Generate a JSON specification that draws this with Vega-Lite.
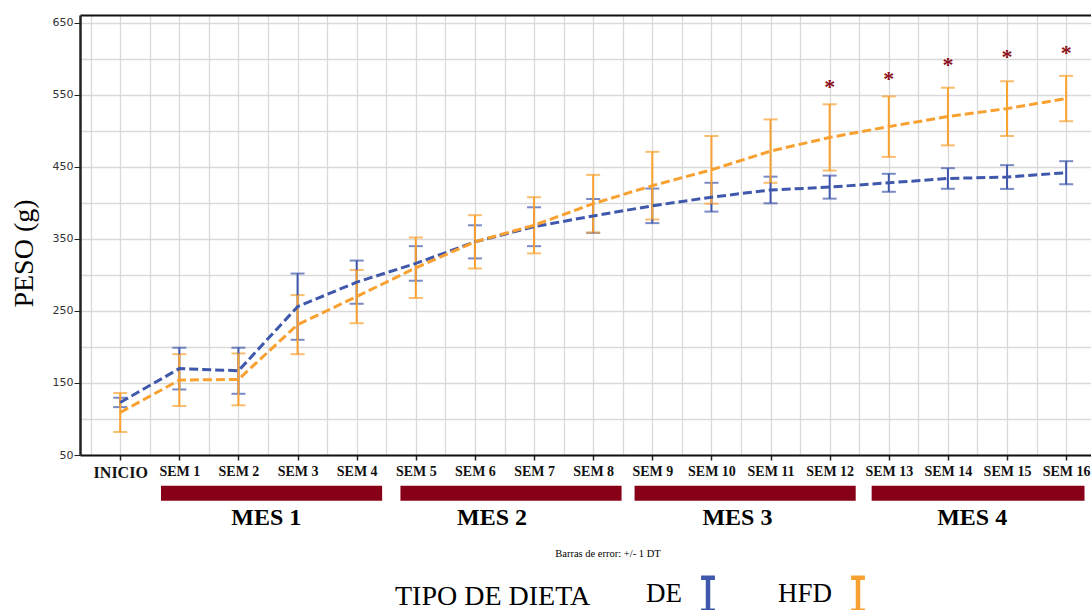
{
  "$schema": "https://vega.github.io/schema/vega-lite/v6.json",
  "width": 1011,
  "height": 440,
  "autosize": {"type": "none"},
  "padding": {"left": 80, "top": 15, "right": 0, "bottom": 155},
  "background": "white",
  "config": {"view": {"stroke": null}},
  "datasets": {
    "pesos": [
      {"semana": "INICIO", "idx": 0, "dieta": "DE", "media": 123, "de": 6.5},
      {"semana": "SEM 1", "idx": 1, "dieta": "DE", "media": 170, "de": 29},
      {"semana": "SEM 2", "idx": 2, "dieta": "DE", "media": 167, "de": 32},
      {"semana": "SEM 3", "idx": 3, "dieta": "DE", "media": 256, "de": 46},
      {"semana": "SEM 4", "idx": 4, "dieta": "DE", "media": 290, "de": 30},
      {"semana": "SEM 5", "idx": 5, "dieta": "DE", "media": 316, "de": 24},
      {"semana": "SEM 6", "idx": 6, "dieta": "DE", "media": 346, "de": 23},
      {"semana": "SEM 7", "idx": 7, "dieta": "DE", "media": 367, "de": 27},
      {"semana": "SEM 8", "idx": 8, "dieta": "DE", "media": 382, "de": 23.5},
      {"semana": "SEM 9", "idx": 9, "dieta": "DE", "media": 396, "de": 24},
      {"semana": "SEM 10", "idx": 10, "dieta": "DE", "media": 408, "de": 20},
      {"semana": "SEM 11", "idx": 11, "dieta": "DE", "media": 418, "de": 18.5},
      {"semana": "SEM 12", "idx": 12, "dieta": "DE", "media": 422, "de": 16},
      {"semana": "SEM 13", "idx": 13, "dieta": "DE", "media": 428, "de": 12.5},
      {"semana": "SEM 14", "idx": 14, "dieta": "DE", "media": 434, "de": 14.3},
      {"semana": "SEM 15", "idx": 15, "dieta": "DE", "media": 436, "de": 16.5},
      {"semana": "SEM 16", "idx": 16, "dieta": "DE", "media": 442, "de": 16},
      {"semana": "INICIO", "idx": 0, "dieta": "HFD", "media": 109, "de": 27},
      {"semana": "SEM 1", "idx": 1, "dieta": "HFD", "media": 154, "de": 36},
      {"semana": "SEM 2", "idx": 2, "dieta": "HFD", "media": 155, "de": 36},
      {"semana": "SEM 3", "idx": 3, "dieta": "HFD", "media": 231, "de": 41},
      {"semana": "SEM 4", "idx": 4, "dieta": "HFD", "media": 270, "de": 37},
      {"semana": "SEM 5", "idx": 5, "dieta": "HFD", "media": 310, "de": 42},
      {"semana": "SEM 6", "idx": 6, "dieta": "HFD", "media": 346, "de": 37},
      {"semana": "SEM 7", "idx": 7, "dieta": "HFD", "media": 369, "de": 39},
      {"semana": "SEM 8", "idx": 8, "dieta": "HFD", "media": 399, "de": 40},
      {"semana": "SEM 9", "idx": 9, "dieta": "HFD", "media": 424, "de": 47},
      {"semana": "SEM 10", "idx": 10, "dieta": "HFD", "media": 446, "de": 47},
      {"semana": "SEM 11", "idx": 11, "dieta": "HFD", "media": 472, "de": 44},
      {"semana": "SEM 12", "idx": 12, "dieta": "HFD", "media": 491, "de": 46},
      {"semana": "SEM 13", "idx": 13, "dieta": "HFD", "media": 506, "de": 42},
      {"semana": "SEM 14", "idx": 14, "dieta": "HFD", "media": 520, "de": 40},
      {"semana": "SEM 15", "idx": 15, "dieta": "HFD", "media": 531, "de": 38},
      {"semana": "SEM 16", "idx": 16, "dieta": "HFD", "media": 545, "de": 31.5}
    ],
    "significancia": [
      {"idx": 12, "valor": 567},
      {"idx": 13, "valor": 577},
      {"idx": 14, "valor": 597},
      {"idx": 15, "valor": 608},
      {"idx": 16, "valor": 614}
    ],
    "meses": [
      {"mes": "MES 1", "inicio": 0.69, "fin": 4.43, "centro": 2.47},
      {"mes": "MES 2", "inicio": 4.74, "fin": 8.48, "centro": 6.29},
      {"mes": "MES 3", "inicio": 8.7, "fin": 12.44, "centro": 10.44},
      {"mes": "MES 4", "inicio": 12.71, "fin": 16.31, "centro": 14.41}
    ],
    "nota": [
      {"texto": "Barras de error: +/- 1 DT", "centro": 8.25}
    ]
  },
  "resolve": {"axis": {"x": "independent", "y": "independent"}},
  "layer": [
    {
      "data": {"name": "significancia"},
      "mark": {"type": "text", "text": "*", "font": "Liberation Serif", "fontWeight": "bold", "fontSize": 22, "color": "#8b1020", "baseline": "middle", "dy": 4},
      "encoding": {
        "x": {"field": "idx", "type": "quantitative", "scale": {"domain": [-0.68, 16.42], "nice": false, "zero": false},
          "axis": {"orient": "top", "values": [-0.5, 0, 0.5, 1, 1.5, 2, 2.5, 3, 3.5, 4, 4.5, 5, 5.5, 6, 6.5, 7, 7.5, 8, 8.5, 9, 9.5, 10, 10.5, 11, 11.5, 12, 12.5, 13, 13.5, 14, 14.5, 15, 15.5, 16],
            "grid": true, "gridColor": "#d9d9d9", "gridWidth": 1.3, "labels": false, "ticks": false, "domain": true, "domainColor": "#111", "domainWidth": 2, "title": null}},
        "y": {"field": "valor", "type": "quantitative", "scale": {"domain": [50, 661], "nice": false, "zero": false},
          "axis": {"orient": "right", "values": [50, 100, 150, 200, 250, 300, 350, 400, 450, 500, 550, 600, 650],
            "grid": true, "gridColor": "#d9d9d9", "gridWidth": 1.3, "labels": false, "ticks": false, "domain": false, "title": null}}
      }
    },
    {
      "data": {"name": "pesos"},
      "mark": {"type": "errorbar", "thickness": 2, "ticks": {"size": 14}},
      "encoding": {
        "x": {"field": "idx", "type": "quantitative", "scale": {"domain": [-0.68, 16.42], "nice": false, "zero": false}, "axis": null},
        "y": {"field": "media", "type": "quantitative", "scale": {"domain": [50, 661], "nice": false, "zero": false}, "axis": null},
        "yError": {"field": "de"},
        "color": {"field": "dieta", "type": "nominal", "scale": {"domain": ["DE", "HFD"], "range": ["#4058ab", "#f8a131"]},
          "legend": {"orient": "none", "legendX": 315, "legendY": 560, "direction": "horizontal", "title": "TIPO DE DIETA", "titleOrient": "left",
            "titleFont": "Liberation Serif", "titleFontSize": 28, "titleFontWeight": "normal", "titleColor": "#000", "titlePadding": 98, "titleLimit": 500,
            "labelFont": "Liberation Serif", "labelFontSize": 27, "labelColor": "#000", "labelAlign": "right", "labelOffset": -45, "labelLimit": 300,
            "symbolType": "M-0.42,-1H0.42M0,-1V1M-0.42,1H0.42", "symbolSize": 1089, "symbolStrokeWidth": 4.5, "symbolFillColor": "transparent", "symbolDash": [1, 0], "symbolOpacity": 1,
            "columnPadding": 53}}
      }
    },
    {
      "data": {"name": "pesos"},
      "mark": {"type": "line", "strokeWidth": 3, "strokeDash": [9, 4]},
      "encoding": {
        "x": {"field": "idx", "type": "quantitative", "scale": {"domain": [-0.68, 16.42], "nice": false, "zero": false},
          "axis": {"orient": "bottom", "values": [0, 1, 2, 3, 4, 5, 6, 7, 8, 9, 10, 11, 12, 13, 14, 15, 16],
            "labelExpr": "['INICIO','SEM 1','SEM 2','SEM 3','SEM 4','SEM 5','SEM 6','SEM 7','SEM 8','SEM 9','SEM 10','SEM 11','SEM 12','SEM 13','SEM 14','SEM 15','SEM 16'][datum.value]",
            "grid": false, "tickSize": 5, "tickColor": "#222", "tickWidth": 1.5, "domainColor": "#111", "domainWidth": 2,
            "labelFont": "Liberation Serif", "labelFontWeight": "bold", "labelFontSize": {"condition": {"test": "datum.value == 0", "value": 16}, "value": 14},
            "labelColor": "#111", "labelPadding": 4, "labelFlush": false, "labelOverlap": false, "title": null}},
        "y": {"field": "media", "type": "quantitative", "scale": {"domain": [50, 661], "nice": false, "zero": false},
          "axis": {"orient": "left", "values": [50, 150, 250, 350, 450, 550, 650], "grid": false, "tickSize": 6, "tickColor": "#222",
            "labelFont": "DejaVu Sans", "labelFontSize": 11, "labelColor": "#333", "labelPadding": 1, "domainColor": "#222", "domainWidth": 2.5,
            "title": "PESO (g)", "titleFont": "Liberation Serif", "titleFontSize": 28, "titleFontWeight": "normal", "titleColor": "#000",
            "titleX": -56, "titleY": 238, "titleBaseline": "middle", "titleAngle": -90}},
        "color": {"field": "dieta", "type": "nominal", "scale": {"domain": ["DE", "HFD"], "range": ["#4058ab", "#f8a131"]},
          "legend": {"orient": "none", "legendX": 315, "legendY": 560, "direction": "horizontal", "title": "TIPO DE DIETA", "titleOrient": "left",
            "titleFont": "Liberation Serif", "titleFontSize": 28, "titleFontWeight": "normal", "titleColor": "#000", "titlePadding": 98, "titleLimit": 500,
            "labelFont": "Liberation Serif", "labelFontSize": 27, "labelColor": "#000", "labelAlign": "right", "labelOffset": -45, "labelLimit": 300,
            "symbolType": "M-0.42,-1H0.42M0,-1V1M-0.42,1H0.42", "symbolSize": 1089, "symbolStrokeWidth": 4.5, "symbolFillColor": "transparent", "symbolDash": [1, 0], "symbolOpacity": 1,
            "columnPadding": 53}}
      }
    },
    {
      "data": {"name": "meses"},
      "mark": {"type": "rect", "color": "#870018"},
      "encoding": {
        "x": {"field": "inicio", "type": "quantitative", "scale": {"domain": [-0.68, 16.42], "nice": false, "zero": false}, "axis": null},
        "x2": {"field": "fin"},
        "y": {"datum": 7.4, "type": "quantitative", "scale": {"domain": [50, 661], "nice": false, "zero": false}, "axis": null},
        "y2": {"datum": -13.5}
      }
    },
    {
      "data": {"name": "meses"},
      "mark": {"type": "text", "font": "Liberation Serif", "fontWeight": "bold", "fontSize": 24, "color": "#000", "baseline": "middle"},
      "encoding": {
        "x": {"field": "centro", "type": "quantitative", "scale": {"domain": [-0.68, 16.42], "nice": false, "zero": false}, "axis": null},
        "y": {"datum": -37, "type": "quantitative", "scale": {"domain": [50, 661], "nice": false, "zero": false}, "axis": null},
        "text": {"field": "mes"}
      }
    },
    {
      "data": {"name": "nota"},
      "mark": {"type": "text", "font": "Liberation Serif", "fontSize": 10.5, "color": "#000", "baseline": "middle"},
      "encoding": {
        "x": {"field": "centro", "type": "quantitative", "scale": {"domain": [-0.68, 16.42], "nice": false, "zero": false}, "axis": null},
        "y": {"datum": -87, "type": "quantitative", "scale": {"domain": [50, 661], "nice": false, "zero": false}, "axis": null},
        "text": {"field": "texto"}
      }
    }
  ]
}
